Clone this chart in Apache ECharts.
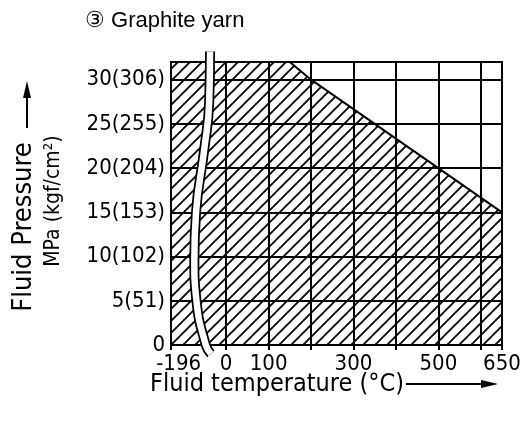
<!DOCTYPE html>
<html lang="en">
<head>
    <meta charset="UTF-8">
    <title>Graphite yarn</title>
    <script src="https://cdn.jsdelivr.net/npm/echarts@6/dist/echarts.min.js"></script>
    <style>
        html, body { margin: 0; padding: 0; background: #fff; }
        #chart { width: 526px; height: 430px; }
    </style>
</head>
<body>
<div id="chart"></div>
<script>
    // usable range: temperature (°C) vs pressure (MPa)
    let limitTemp = [-196, 150, 200, 500, 650];
    let limitPressure = [32, 32, 30, 20, 15];

    // y ticks in MPa and the same in kgf/cm²
    let mpaTicks = [0, 5, 10, 15, 20, 25, 30];
    let kgfTicks = [0, 51, 102, 153, 204, 255, 306];

    // x labels and grid lines (°C)
    let tempLabels = [-196, 0, 100, 300, 500, 650];
    let tempGrid = [-196, 0, 100, 200, 300, 400, 500, 600, 650];

    // wavy axis-break band, in axis units (x) / MPa (y)
    let breakX = [-38, -40, -52, -71, -75, -70, -48, -36];
    let breakY = [33.2, 27.5, 22, 15, 9.6, 5, 0, -1];

    // the part below 0 °C is drawn compressed
    const toAxis = t => t < 0 ? t / 196 * 130 : t;

    const techFont = '"DejaVu Sans Condensed", "DejaVu Sans", sans-serif';

    // diagonal hatch tile
    function hatchTile(size) {
        let c = document.createElement('canvas');
        c.width = c.height = size;
        let ctx = c.getContext('2d');
        ctx.strokeStyle = '#000';
        ctx.lineWidth = 1.8;
        ctx.beginPath();
        ctx.moveTo(-1, size + 1); ctx.lineTo(size + 1, -1);
        ctx.moveTo(-2, 2); ctx.lineTo(2, -2);
        ctx.moveTo(size - 2, size + 2); ctx.lineTo(size + 2, size - 2);
        ctx.stroke();
        return c;
    }

    let chart = echarts.init(document.getElementById('chart'));

    let option = {
        animation: false,
        backgroundColor: '#fff',
        title: {
            text: '③ Graphite yarn',
            left: 80,
            top: 5,
            textStyle: {
                fontFamily: '"Liberation Sans", Arial, sans-serif',
                fontSize: 22,
                fontWeight: 'normal',
                color: '#000'
            }
        },
        grid: {
            left: 171, right: 24, top: 62, bottom: 85,
            show: true,
            borderColor: '#000',
            borderWidth: 2,
            backgroundColor: 'transparent'
        },
        xAxis: {
            type: 'value',
            min: toAxis(-196),
            max: 650,
            axisLine: { show: true, onZero: false, lineStyle: { color: '#000', width: 2 } },
            axisTick: {
                show: true, length: 5, inside: false,
                customValues: tempGrid.map(toAxis),
                lineStyle: { color: '#000', width: 2 }
            },
            splitLine: { show: true, lineStyle: { color: '#000', width: 2 } },
            axisLabel: {
                customValues: tempLabels.map(t => t < 0 ? toAxis(t) + 18 : t),
                margin: 8,
                color: '#000',
                fontFamily: techFont,
                fontSize: 22,
                formatter: v => v < 0 ? String(tempLabels[0]) : String(v)
            }
        },
        yAxis: {
            type: 'value',
            min: 0,
            max: 32,
            interval: 5,
            axisLine: { show: true, lineStyle: { color: '#000', width: 2 } },
            axisTick: { show: true, length: 5, lineStyle: { color: '#000', width: 2 } },
            splitLine: { show: true, lineStyle: { color: '#000', width: 2 } },
            axisLabel: {
                margin: 6,
                color: '#000',
                fontFamily: techFont,
                fontSize: 22,
                showMaxLabel: false,
                formatter: v => {
                    let i = mpaTicks.indexOf(v);
                    if (i < 0) return '';
                    return v === 0 ? '0' : `${v}(${kgfTicks[i]})`;
                }
            }
        },
        graphic: [
            {
                type: 'text', x: 24, y: 227, rotation: Math.PI / 2,
                style: {
                    text: 'Fluid Pressure', font: '27px ' + techFont, fill: '#000',
                    align: 'center', verticalAlign: 'middle', textAlign: 'center', textVerticalAlign: 'middle'
                }
            },
            {
                type: 'text', x: 54, y: 201, rotation: Math.PI / 2,
                style: {
                    text: 'MPa (kgf/cm²)', font: '21px ' + techFont, fill: '#000',
                    align: 'center', verticalAlign: 'middle', textAlign: 'center', textVerticalAlign: 'middle'
                }
            },
            {
                type: 'text', x: 277, y: 384,
                style: {
                    text: 'Fluid temperature (°C)', font: '25px ' + techFont, fill: '#000',
                    align: 'center', verticalAlign: 'middle', textAlign: 'center', textVerticalAlign: 'middle'
                }
            },
            // arrows
            { type: 'line', shape: { x1: 27, y1: 128, x2: 27, y2: 94 }, style: { stroke: '#000', lineWidth: 2 } },
            { type: 'polygon', shape: { points: [[27, 81], [23, 98], [31, 98]] }, style: { fill: '#000' } },
            { type: 'line', shape: { x1: 406, y1: 384, x2: 484, y2: 384 }, style: { stroke: '#000', lineWidth: 2 } },
            { type: 'polygon', shape: { points: [[498, 384], [481, 380], [481, 388]] }, style: { fill: '#000' } }
        ],
        series: [
            {
                name: 'rated range',
                type: 'line',
                data: limitTemp.map((t, i) => [toAxis(t), limitPressure[i]]),
                symbol: 'none',
                lineStyle: { color: '#000', width: 2 },
                areaStyle: {
                    origin: 'start',
                    opacity: 1,
                    color: { image: hatchTile(12), repeat: 'repeat' }
                },
                z: 1
            },
            {
                name: 'break outline',
                type: 'line',
                data: breakX.map((x, i) => [x, breakY[i]]),
                smooth: true,
                clip: false,
                symbol: 'none',
                lineStyle: { color: '#000', width: 10 },
                z: 5
            },
            {
                name: 'break',
                type: 'line',
                data: breakX.map((x, i) => [x, breakY[i]]),
                smooth: true,
                clip: false,
                symbol: 'none',
                lineStyle: { color: '#fff', width: 6.5 },
                z: 6
            }
        ]
    };

    chart.setOption(option);
</script>
</body>
</html>
